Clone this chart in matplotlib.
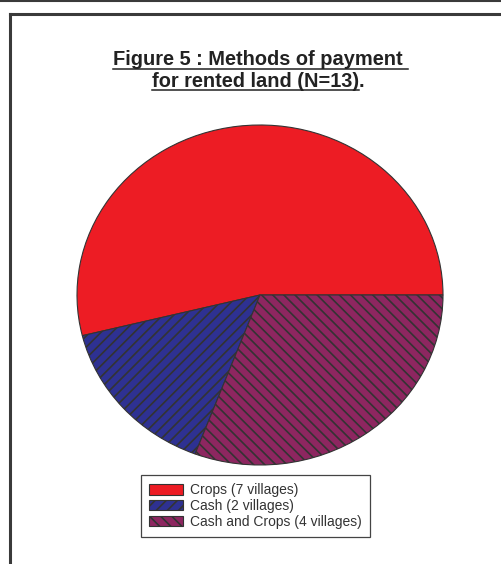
'''
Pie chart: methods of payment for rented land
'''

import matplotlib
matplotlib.use('Agg')
import matplotlib.pyplot as plt
from matplotlib.lines import Line2D

methods = ['Crops', 'Cash', 'Cash and Crops']
villages = [7, 2, 4]
colors = ['#ED1C24', '#2E3192', '#8D2660']
hatches = ['', '///', '\\\\\\']
labels = ['%s (%d villages)' % (m, n) for m, n in zip(methods, villages)]

title_line1 = 'Figure 5 : Methods of payment'
title_line2 = 'for rented land (N=13)'

W, H = 502, 564
plt.rcParams['font.family'] = ['Liberation Sans', 'DejaVu Sans']
plt.rcParams['hatch.linewidth'] = 1.2

fig = plt.figure(figsize=(W / 100, H / 100), dpi=100)


def box(x0, y0, x1, y1):
    '''pixel box (top-left origin) -> figure fraction rect'''
    return [x0 / W, 1 - y1 / H, (x1 - x0) / W, (y1 - y0) / H]


def fx(x):
    return x / W


def fy(y):
    return 1 - y / H


# outer page frame
line_color = '#3a3a3a'
fig.add_artist(Line2D([0, 1], [fy(1), fy(1)], color=line_color, lw=1.5))
fig.add_artist(Line2D([fx(9.5), 1], [fy(13.5), fy(13.5)], color=line_color, lw=2.2))
fig.add_artist(Line2D([fx(9.5), fx(9.5)], [fy(13.5), 0], color=line_color, lw=2.2))

# pie, stretched into an ellipse
ax = fig.add_axes(box(77, 125, 443, 465))
wedges, _ = ax.pie(villages, colors=colors, startangle=0, counterclock=True,
                   wedgeprops=dict(edgecolor='#333333', linewidth=0.8))
for wedge, hatch in zip(wedges, hatches):
    wedge.set_hatch(hatch)
ax.set_aspect('auto')
ax.set_xlim(-1, 1)
ax.set_ylim(-1, 1)

leg = ax.legend(wedges, labels, loc='upper left',
                bbox_to_anchor=(fx(141), fy(475)), bbox_transform=fig.transFigure,
                borderaxespad=0, fontsize=10, fancybox=False, framealpha=1,
                edgecolor='#444444', handlelength=2.4, handleheight=0.75,
                labelspacing=0.12, borderpad=0.6, handletextpad=0.55)
leg.get_frame().set_linewidth(0.9)
for txt in leg.get_texts():
    txt.set_color('#333333')

# underlined two-line title
renderer = fig.canvas.get_renderer()
title_size = 14.4
center = 258
space_px = title_size * 0.278 * 100 / 72

t1 = fig.text(fx(center), fy(65), title_line1, ha='center', va='baseline',
              fontsize=title_size, fontweight='bold', color='#222222')
bb1 = t1.get_window_extent(renderer)
fig.add_artist(Line2D([bb1.x0 / W, (bb1.x1 + space_px) / W], [fy(68.5), fy(68.5)],
                      color='#222222', lw=1.1))

t2 = fig.text(0, fy(87), title_line2, ha='left', va='baseline',
              fontsize=title_size, fontweight='bold', color='#222222')
dot = fig.text(0, fy(87), '.', ha='left', va='baseline',
               fontsize=title_size, fontweight='bold', color='#222222')
w2 = t2.get_window_extent(renderer).width
wd = dot.get_window_extent(renderer).width
left = center - (w2 + wd) / 2
t2.set_x(fx(left))
dot.set_x(fx(left + w2))
fig.add_artist(Line2D([fx(left), fx(left + w2)], [fy(90), fy(90)],
                      color='#222222', lw=1.1))

fig.savefig('out.png', dpi=100)
